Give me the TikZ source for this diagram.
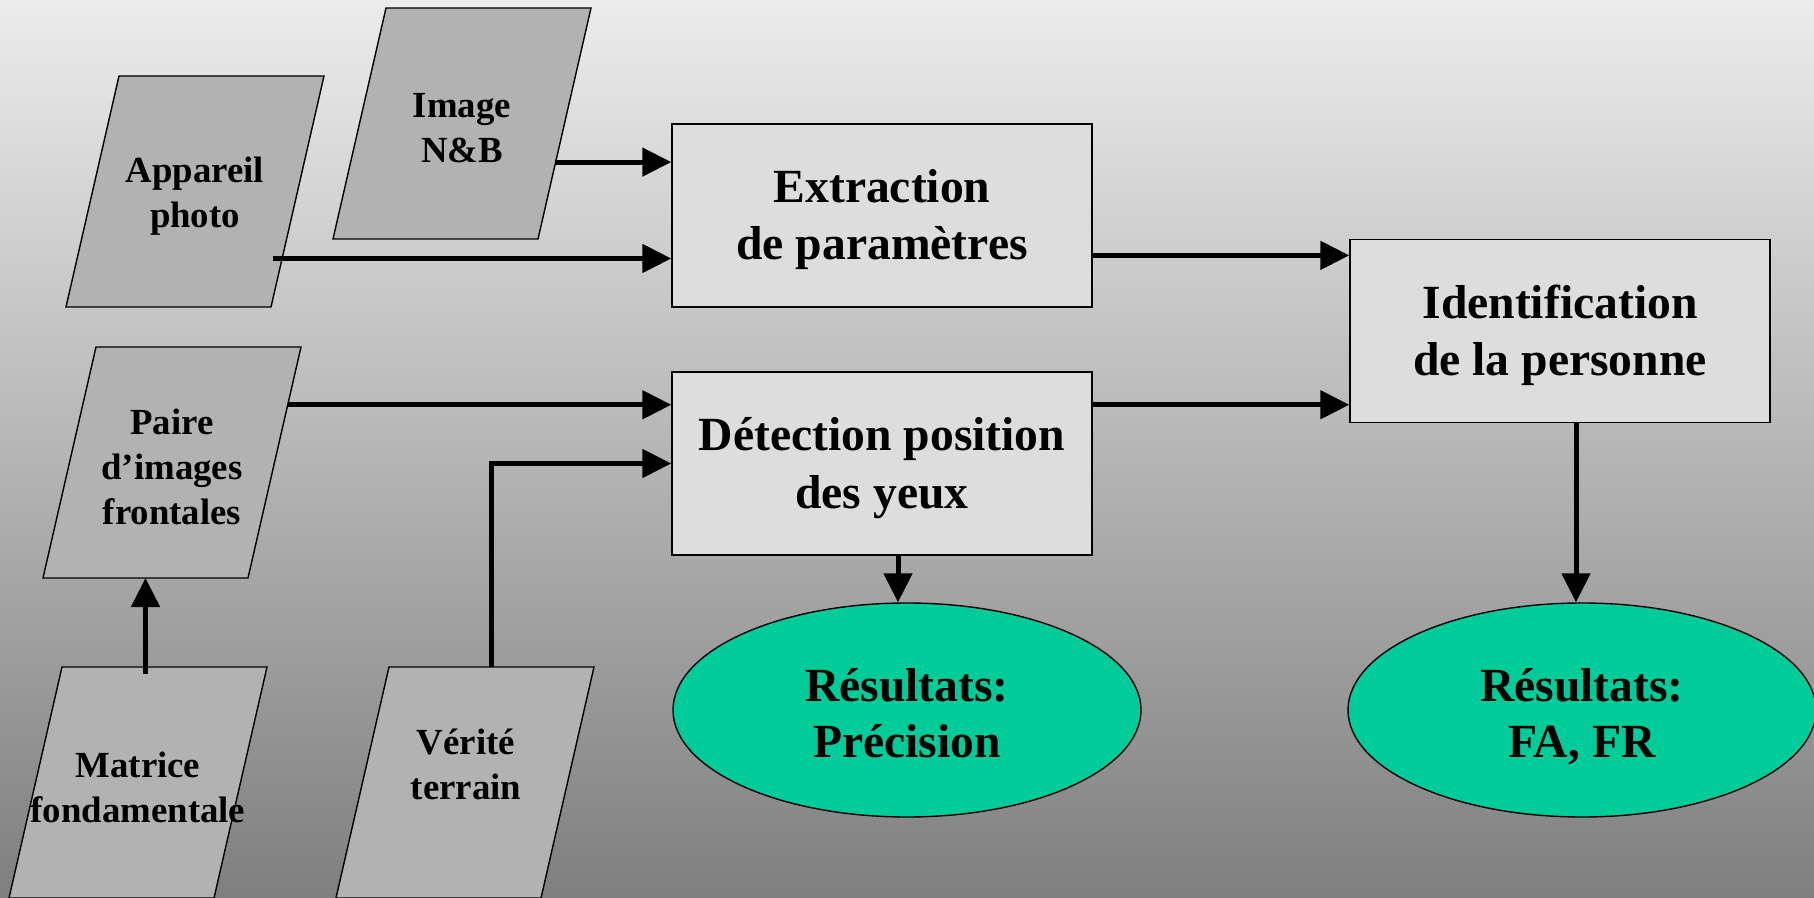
\documentclass[tikz,border=0pt]{standalone}
\usepackage{fontspec}
\setmainfont{Liberation Serif}
\usetikzlibrary{arrows.meta,calc,backgrounds,shapes.geometric}
\definecolor{bgtop}{RGB}{236,236,236}
\definecolor{bgbot}{RGB}{127,127,127}
\definecolor{parafill}{RGB}{178,178,178}
\definecolor{procfill}{RGB}{221,221,221}
\definecolor{resfill}{RGB}{0,204,153}
\tikzset{
	paratext/.style={
		inner sep=0pt, align=center, font=\fontsize{18.4}{22.5}\selectfont\bfseries},
	parashape/.style={draw, line width=0.7pt, fill=parafill},
	proc/.style={
		rectangle, draw, line width=0.7pt, fill=procfill,
		minimum width=210pt, minimum height=91.5pt, inner sep=0pt,
		text height=46pt, text depth=1.5pt,
		align=center, font=\fontsize{23.8}{28.5}\selectfont\bfseries},
	res/.style={
		ellipse, draw, line width=0.7pt, fill=resfill,
		minimum width=234pt, minimum height=107pt, inner sep=0pt,
		text height=47pt, text depth=0pt,
		align=center, font=\fontsize{23.8}{28}\selectfont\bfseries},
	arr/.style={line width=2.5pt, -{Triangle[length=14.5pt,width=14pt]}}
}
\begin{document}
\begin{tikzpicture}[x=0.5pt,y=0.5pt,yscale=-1,xscale=1]
\useasboundingbox (0,0) rectangle (1814,898);

\node[paratext] (app) at (195,196) {Appareil\\photo};
\node[paratext] (nb) at (462,128) {Image\\N\&B};
\node[paratext] (paire) at (172,467) {Paire\\d’images\\frontales};
\node[paratext] (mat) at (138,787) {Matrice\\fondamentale};
\coordinate (ver) at (465,787);
\node[paratext] (vertext) at (466,764) {Vérité\\terrain};

\begin{scope}[on background layer]
\shade[top color=bgtop, bottom color=bgbot] (0,0) rectangle (1814,898);
\foreach \n in {app,nb,paire,mat,ver}{
	\coordinate (\n-bl) at ($(\n.center)+(-129,111)$);
	\coordinate (\n-br) at ($(\n.center)+(76,111)$);
	\coordinate (\n-tr) at ($(\n.center)+(129,-120)$);
	\coordinate (\n-tl) at ($(\n.center)+(-76,-120)$);
	\draw[parashape] (\n-bl) -- (\n-br) -- (\n-tr) -- (\n-tl) -- cycle;
}
\end{scope}

\node[proc] (ext) at (882,215.5) {Extraction\\de paramètres};
\node[proc] (det) at (882,463.5) {Détection position\\des yeux};
\node[proc] (ident) at (1560,331) {Identification\\de la personne};
\node[res] (res1) at (907,710) {Résultats:\\Précision};
\node[res] (res2) at (1582,710) {Résultats:\\FA, FR};

\coordinate (a1) at ($(nb-tr)!.667!(nb-br)$);
\coordinate (a2) at ($(app-tr)!.79!(app-br)+(-9,0)$);
\coordinate (a3) at ($(paire-tr)!.25!(paire-br)$);
\coordinate (a4) at ($(ident.north west)!.09!(ident.south west)$);
\coordinate (vertop) at ($(ver-tl)!.5!(ver-tr)$);
\coordinate (pairebot) at ($(paire-bl)!.5!(paire-br)$);

\draw[arr] (a1) -- (a1 -| ext.west);
\draw[arr] (a2) -- (a2 -| ext.west);
\draw[arr] (a3) -- (a3 -| det.west);
\draw[arr] (vertop) |- (det.west);
\draw[arr] ($(pairebot |- mat-tl)+(0,7)$) -- (pairebot);
\draw[arr] (ext.east |- a4) -- (a4);
\draw[arr] (det.east |- a3) -- (a3 -| ident.west);
\draw[arr] ($(det.south)+(16,0)$) coordinate (a5) -- (a5 |- res1.north);
\draw[arr] ($(ident.south)+(16,0)$) coordinate (a6) -- (a6 |- res2.north);
\end{tikzpicture}
\end{document}
